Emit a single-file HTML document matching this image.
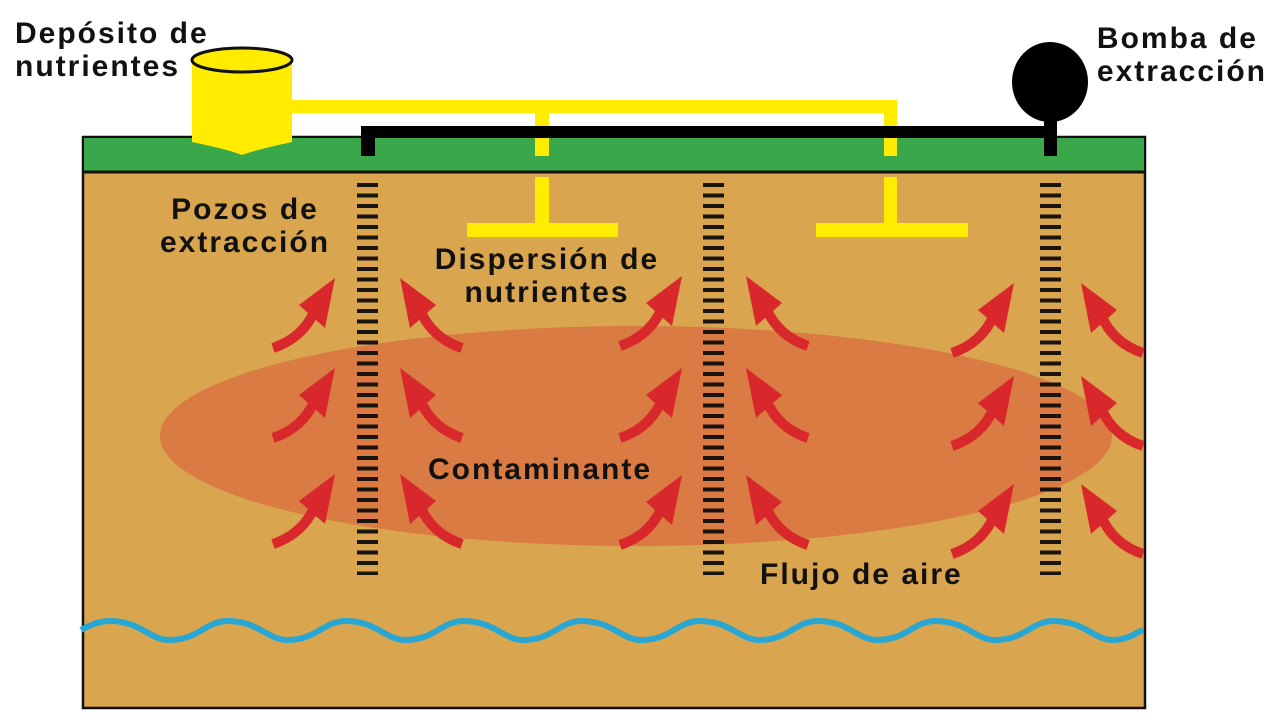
<!DOCTYPE html>
<html><head><meta charset="utf-8"><style>
html,body{margin:0;padding:0;background:#fff;}
body{width:1280px;height:720px;overflow:hidden;position:relative;}
.t{position:absolute;font-family:"Liberation Sans",sans-serif;font-weight:bold;font-size:30px;letter-spacing:2px;color:#111;line-height:33px;white-space:nowrap;}
</style></head><body>
<svg width="1280" height="720" style="position:absolute;left:0;top:0">
<defs>
<g id="ar">
<path d="M0,68 Q30,58 42,30" fill="none" stroke="#d8282b" stroke-width="10"/>
<polygon points="62,-2 26,25 52,48" fill="#d8282b"/>
</g>
<g id="al"><use href="#ar" transform="translate(60,0) scale(-1,1)"/></g>
<pattern id="dash" x="0" y="180" width="30" height="10.5" patternUnits="userSpaceOnUse">
<rect x="0" y="3" width="30" height="4" fill="#1a1410"/>
</pattern>
</defs>
<rect x="83" y="137" width="1062" height="571" fill="#d9a54f" stroke="#111" stroke-width="2.5"/>
<rect x="84" y="138" width="1060" height="34" fill="#3aa84a"/>
<line x1="83" y1="172" x2="1145" y2="172" stroke="#111" stroke-width="3"/>
<ellipse cx="636" cy="436" rx="476" ry="110" fill="#d97b42"/>
<path d="M81,630 C95,622 105,621 110,621 C140,621 150,640 169,640 C199,640 205,621 228,621 C258,621 268,640 287,640 C317,640 323,621 346,621 C376,621 386,640 405,640 C435,640 441,621 464,621 C494,621 504,640 523,640 C553,640 559,621 582,621 C612,621 622,640 641,640 C671,640 677,621 700,621 C730,621 740,640 759,640 C789,640 795,621 818,621 C848,621 858,640 877,640 C907,640 913,621 936,621 C966,621 976,640 995,640 C1025,640 1031,621 1054,621 C1084,621 1094,640 1113,640 C1128,640 1135,633 1143,630" fill="none" stroke="#28a6d4" stroke-width="6"/>
<rect x="357" y="180" width="21" height="395" fill="url(#dash)"/>
<rect x="703" y="180" width="21" height="395" fill="url(#dash)"/>
<rect x="1040" y="180" width="21" height="395" fill="url(#dash)"/>
<rect x="290" y="100" width="607" height="13" fill="#ffec00"/>
<rect x="535" y="100" width="14" height="56" fill="#ffec00"/>
<rect x="884" y="100" width="13" height="56" fill="#ffec00"/>
<rect x="535" y="177" width="14" height="55" fill="#ffec00"/>
<rect x="467" y="223" width="151" height="14" fill="#ffec00"/>
<rect x="884" y="177" width="13" height="55" fill="#ffec00"/>
<rect x="816" y="223" width="152" height="14" fill="#ffec00"/>
<rect x="361" y="126" width="694" height="12" fill="#000"/>
<rect x="361" y="126" width="14" height="30" fill="#000"/>
<rect x="1044" y="110" width="13" height="46" fill="#000"/>
<ellipse cx="1050" cy="82" rx="38" ry="40" fill="#000"/>
<path d="M192,60 L192,142 Q230,150 242,155 Q255,150 292,142 L292,60 Z" fill="#ffec00"/>
<ellipse cx="242" cy="60" rx="50" ry="12" fill="#ffec00" stroke="#111" stroke-width="3"/>
<use href="#ar" x="273" y="280"/><use href="#al" x="402" y="280"/>
<use href="#ar" x="273" y="370"/><use href="#al" x="402" y="370"/>
<use href="#ar" x="273" y="476"/><use href="#al" x="402" y="476"/>
<use href="#ar" x="620" y="278"/><use href="#al" x="748" y="278"/>
<use href="#ar" x="620" y="370"/><use href="#al" x="748" y="370"/>
<use href="#ar" x="620" y="477"/><use href="#al" x="748" y="477"/>
<use href="#ar" x="952" y="285"/><use href="#al" x="1083" y="285"/>
<use href="#ar" x="952" y="378"/><use href="#al" x="1083" y="378"/>
<use href="#ar" x="952" y="486"/><use href="#al" x="1083" y="486"/>
</svg>
<div class="t" style="left:15px;top:17px;">Depósito de<br>nutrientes</div>
<div class="t" style="right:13px;top:22px;text-align:left;">Bomba de<br>extracción</div>
<div class="t" style="left:150px;top:193px;text-align:center;width:190px;">Pozos de<br>extracción</div>
<div class="t" style="left:427px;top:243px;text-align:center;width:240px;">Dispersión de<br>nutrientes</div>
<div class="t" style="left:428px;top:453px;">Contaminante</div>
<div class="t" style="left:760px;top:558px;">Flujo de aire</div>
</body></html>
